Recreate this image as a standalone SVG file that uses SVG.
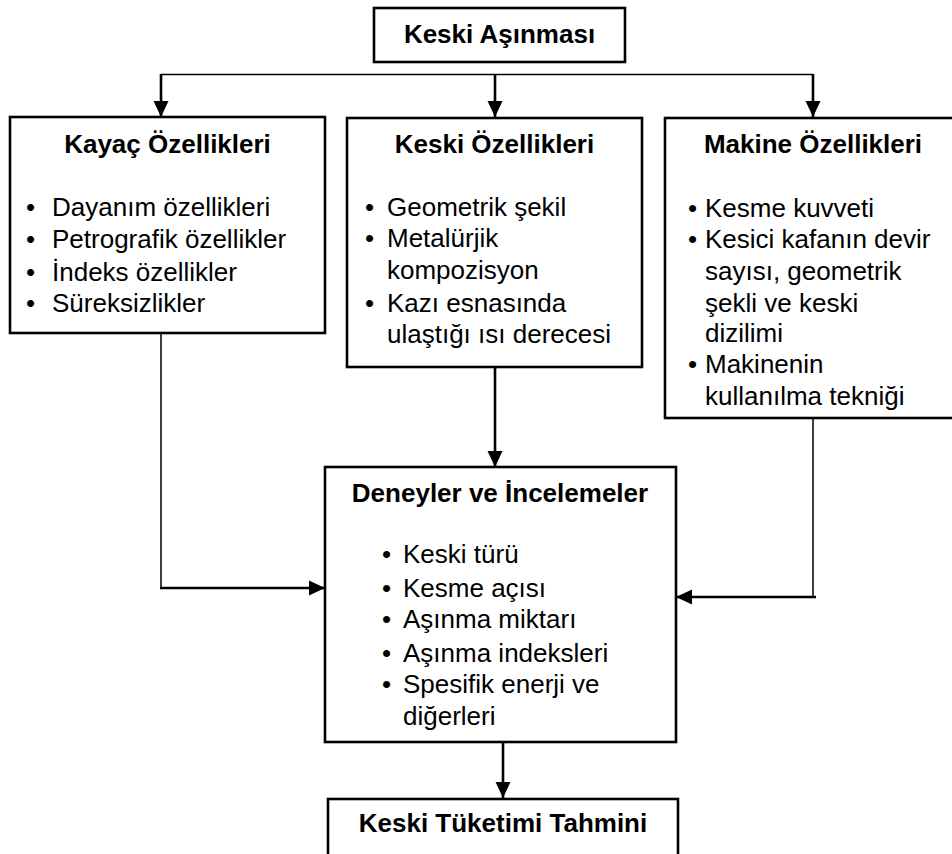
<svg xmlns="http://www.w3.org/2000/svg" width="952" height="854" viewBox="0 0 952 854">
<style>
.box{fill:#fff;stroke:#000;stroke-width:2.6}
.t{font-family:"Liberation Sans",Arial,sans-serif;font-size:26px;fill:#000}
.b{font-weight:bold;text-anchor:middle}
.thick{stroke:#000;stroke-width:2.6;fill:none}
.thin{stroke:#000;stroke-width:1.5;fill:none}
</style>
<defs>
<marker id="ah" markerUnits="userSpaceOnUse" markerWidth="16" markerHeight="16" viewBox="0 0 16 16" refX="16" refY="8" orient="auto">
<path d="M0,0.5 L16,8 L0,15.5 Z" fill="#000"/>
</marker>
</defs>
<g id="connectors">
<line class="thin" x1="161" y1="74.5" x2="813" y2="74.5"/>
<line class="thick" x1="161" y1="74" x2="161" y2="117" marker-end="url(#ah)"/>
<line class="thick" x1="495" y1="74" x2="495" y2="117" marker-end="url(#ah)"/>
<line class="thick" x1="813" y1="74" x2="813" y2="117" marker-end="url(#ah)"/>
<line class="thin" x1="161" y1="333" x2="161" y2="588"/>
<line class="thick" x1="160" y1="588" x2="325" y2="588" marker-end="url(#ah)"/>
<line class="thick" x1="495" y1="367" x2="495" y2="467" marker-end="url(#ah)"/>
<line class="thin" x1="813" y1="418" x2="813" y2="597"/>
<line class="thick" x1="816" y1="597" x2="676" y2="597" marker-end="url(#ah)"/>
<line class="thick" x1="503" y1="742" x2="503" y2="798" marker-end="url(#ah)"/>
</g>
<g id="keski-asinmasi">
<rect class="box" x="374" y="8" width="251" height="54"/>
<text class="t b" x="499.5" y="43">Keski Aşınması</text>
</g>
<g id="kayac">
<rect class="box" x="10" y="117" width="315" height="216"/>
<text class="t b" x="167.5" y="153">Kayaç Özellikleri</text>
<text class="t" x="26" y="216">•</text><text class="t" x="52" y="216">Dayanım özellikleri</text>
<text class="t" x="26" y="248">•</text><text class="t" x="52" y="248">Petrografik özellikler</text>
<text class="t" x="26" y="281">•</text><text class="t" x="52" y="281">İndeks özellikler</text>
<text class="t" x="26" y="312">•</text><text class="t" x="52" y="312">Süreksizlikler</text>
</g>
<g id="keski-ozellikleri">
<rect class="box" x="347" y="118" width="295" height="249"/>
<text class="t b" x="494.5" y="153">Keski Özellikleri</text>
<text class="t" x="365" y="216">•</text><text class="t" x="387" y="216">Geometrik şekil</text>
<text class="t" x="365" y="247">•</text><text class="t" x="387" y="247">Metalürjik</text>
<text class="t" x="387" y="279">kompozisyon</text>
<text class="t" x="365" y="312">•</text><text class="t" x="387" y="312">Kazı esnasında</text>
<text class="t" x="387" y="343">ulaştığı ısı derecesi</text>
</g>
<g id="makine">
<rect class="box" x="665" y="118" width="296" height="300"/>
<text class="t b" x="813" y="153">Makine Özellikleri</text>
<text class="t" x="688" y="217">•</text><text class="t" x="705" y="217">Kesme kuvveti</text>
<text class="t" x="688" y="248">•</text><text class="t" x="705" y="248">Kesici kafanın devir</text>
<text class="t" x="705" y="280">sayısı, geometrik</text>
<text class="t" x="705" y="312">şekli ve keski</text>
<text class="t" x="705" y="342">dizilimi</text>
<text class="t" x="688" y="373">•</text><text class="t" x="705" y="373">Makinenin</text>
<text class="t" x="705" y="405">kullanılma tekniği</text>
</g>
<g id="deneyler">
<rect class="box" x="325" y="467" width="351" height="275"/>
<text class="t b" x="500" y="502">Deneyler ve İncelemeler</text>
<text class="t" x="382" y="563">•</text><text class="t" x="403" y="563">Keski türü</text>
<text class="t" x="382" y="597">•</text><text class="t" x="403" y="597">Kesme açısı</text>
<text class="t" x="382" y="628">•</text><text class="t" x="403" y="628">Aşınma miktarı</text>
<text class="t" x="382" y="662">•</text><text class="t" x="403" y="662">Aşınma indeksleri</text>
<text class="t" x="382" y="693">•</text><text class="t" x="403" y="693">Spesifik enerji ve</text>
<text class="t" x="403" y="725">diğerleri</text>
</g>
<g id="keski-tuketimi">
<rect class="box" x="328" y="799" width="350" height="60"/>
<text class="t b" x="503" y="832">Keski Tüketimi Tahmini</text>
</g>
</svg>
